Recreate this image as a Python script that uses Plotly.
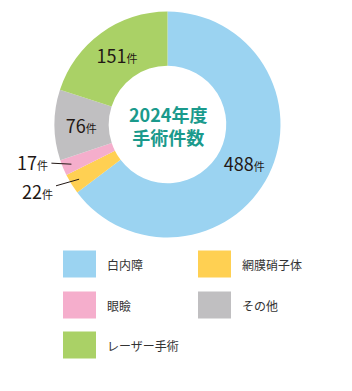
import math
import plotly.graph_objects as go

# ---- data ----
categories = ["白内障", "網膜硝子体", "眼瞼", "その他", "レーザー手術"]
values = [488, 22, 17, 76, 151]
colors = ["#9BD3F1", "#FFD052", "#F5AECC", "#C0BFC1", "#AAD166"]
center_title = "<b>2024年度</b><br><b>手術件数</b>"
unit = "件"
legend_rows = [["白内障", "網膜硝子体"], ["眼瞼", "その他"], ["レーザー手術"]]

W, H = 352, 391
FONT = "Noto Sans CJK JP"
TXT = "#231815"

# pie geometry (pixels)
cx, cy, R = 167.5, 124.5, 113

def px(x):
    return x / W

def py(y):
    return 1 - y / H

inside_min = 50
texts = [f"{v}<span style='font-size:11px'>{unit}</span>" if v >= inside_min else "" for v in values]

fig = go.Figure(go.Pie(
    labels=categories,
    values=values,
    marker=dict(colors=colors, line=dict(width=0)),
    hole=0.52,
    sort=False,
    direction="clockwise",
    rotation=0,
    text=texts,
    textinfo="text",
    textposition="inside",
    insidetextorientation="horizontal",
    textfont=dict(family=FONT, size=18, color=TXT),
    domain=dict(x=[px(cx - R), px(cx + R)], y=[py(cy + R), py(cy - R)]),
    showlegend=False,
    hoverinfo="label+value",
))

annotations = [dict(
    text=center_title, x=px(cx), y=py(cy + 1), xref="paper", yref="paper",
    showarrow=False, font=dict(family=FONT, size=18, color="#1A9A8C"),
    xanchor="center", yanchor="middle",
)]

# outside labels for small slices, anchored at slice mid-angle
total = sum(values)
offsets = {"眼瞼": (-39, -2), "網膜硝子体": (-42, 12)}
cum = 0
for cat, v in zip(categories, values):
    mid = (cum + v / 2) / total * 2 * math.pi
    cum += v
    if v >= inside_min:
        continue
    r = R * 0.92
    hx = cx + r * math.sin(mid)
    hy = cy - r * math.cos(mid)
    ax, ay = offsets[cat]
    annotations.append(dict(
        text=f"{v}<span style='font-size:11px'>{unit}</span>",
        x=px(hx), y=py(hy), xref="paper", yref="paper",
        showarrow=True, arrowhead=0, arrowwidth=1, arrowcolor=TXT,
        ax=ax, ay=ay, standoff=0, startstandoff=2,
        font=dict(family=FONT, size=18, color=TXT),
    ))

# custom grid legend
shapes = []
col_x = [63, 198]
row_y = [264, 305, 345]
sw, sh = 33, 27
cmap = dict(zip(categories, colors))
for ri, row in enumerate(legend_rows):
    for ci, cat in enumerate(row):
        x0 = col_x[ci]
        yc = row_y[ri]
        shapes.append(dict(
            type="rect", xref="paper", yref="paper",
            x0=px(x0), x1=px(x0 + sw), y0=py(yc + sh / 2), y1=py(yc - sh / 2),
            fillcolor=cmap[cat], line=dict(width=0),
        ))
        annotations.append(dict(
            text=cat, x=px(x0 + sw + 9), y=py(yc), xref="paper", yref="paper",
            showarrow=False, xanchor="left", yanchor="middle",
            font=dict(family=FONT, size=12, color="#333333"),
        ))

fig.update_layout(
    width=W, height=H,
    margin=dict(l=0, r=0, t=0, b=0),
    paper_bgcolor="white", plot_bgcolor="white",
    annotations=annotations, shapes=shapes,
    font=dict(family=FONT),
)

fig.write_html("out.html")
